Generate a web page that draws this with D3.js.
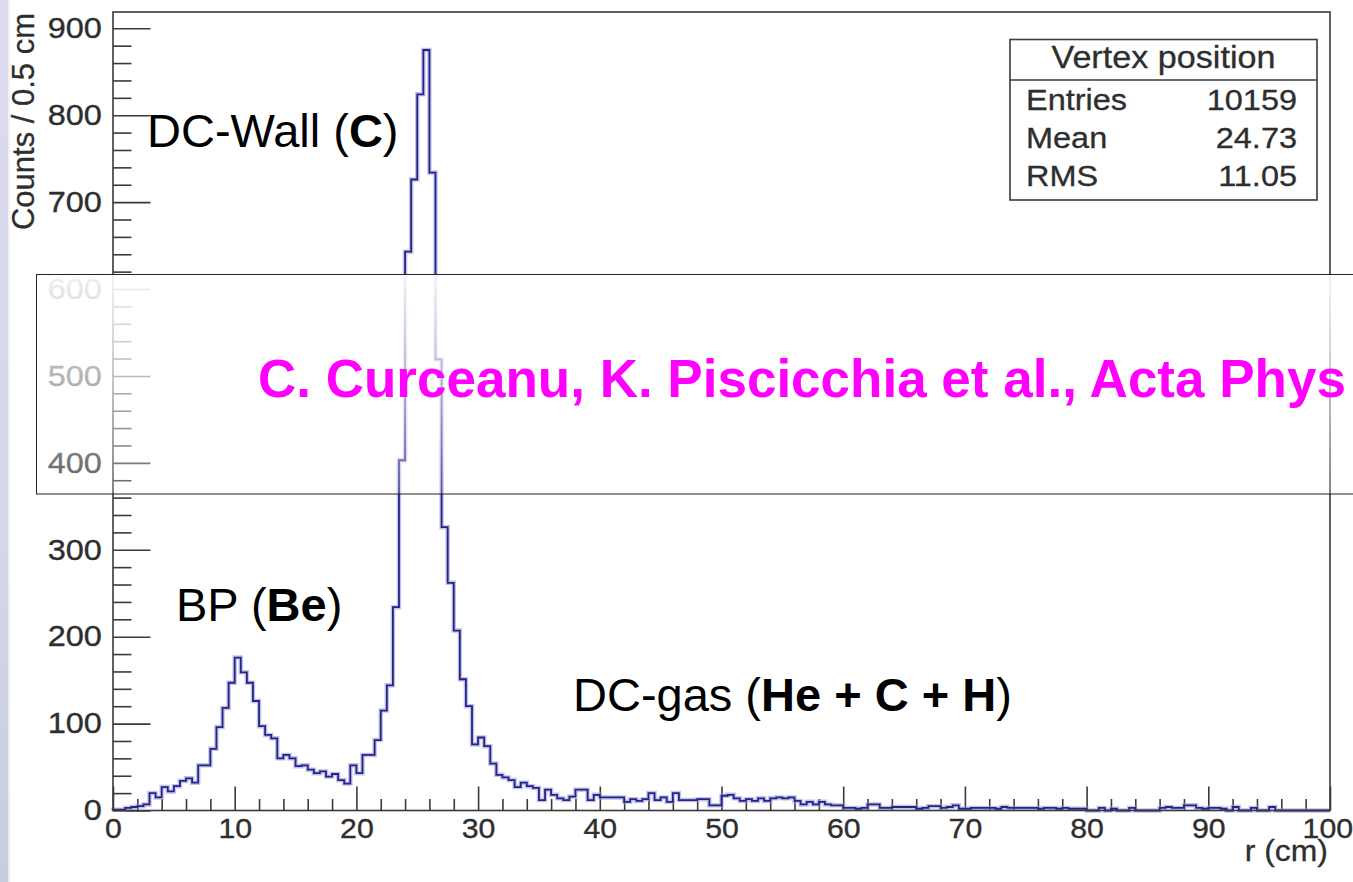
<!DOCTYPE html>
<html>
<head>
<meta charset="utf-8">
<script src="https://cdn.jsdelivr.net/npm/d3@7"></script>
<style>
  html, body { margin: 0; padding: 0; background: #fff; }
  svg { display: block; }
  text { font-family: "Liberation Sans", Arial, Helvetica, sans-serif; }
</style>
</head>
<body>
<svg id="chart" width="1353" height="882"></svg>
<script>
// ---- data: vertex radius histogram, 0.5 cm bins from 0 to 100 cm ----
const binWidth = 0.5;
const xRange = [0, 100];
const counts = [
  // 0 - 9.5 cm
  1, 1, 3, 4, 5, 7, 20, 15, 27, 22, 28, 34, 37, 32, 52, 52, 71, 96, 118, 147,
  // 10 - 19.5 cm
  176, 159, 147, 126, 97, 87, 83, 60, 64, 60, 51, 52, 47, 43, 45, 39, 42, 35, 31, 52,
  // 20 - 29.5 cm
  43, 64, 64, 81, 115, 144, 234, 403, 643, 726, 824, 875, 734, 519, 326, 262, 207, 151, 120, 76,
  // 30 - 39.5 cm
  84, 74, 54, 41, 38, 35, 27, 32, 28, 26, 12, 24, 18, 14, 12, 16, 24, 24, 12, 18,
  // 40 - 49.5 cm
  15, 15, 15, 15, 10, 13, 11, 13, 20, 12, 15, 10, 20, 12, 12, 12, 13, 13, 6, 6,
  // 50 - 59.5 cm
  17, 18, 14, 11, 13, 11, 14, 11, 14, 15, 14, 15, 11, 7, 10, 7, 10, 7, 6, 6,
  // 60 - 69.5 cm
  3, 3, 2, 3, 7, 7, 3, 3, 4, 4, 4, 4, 2, 3, 5, 5, 3, 4, 6, 2,
  // 70 - 79.5 cm
  2, 3, 3, 3, 3, 2, 4, 3, 3, 3, 3, 3, 2, 3, 3, 2, 3, 2, 2, 2,
  // 80 - 89.5 cm
  0, 0, 3, 0, 2, 0, 0, 3, 0, 0, 0, 0, 3, 4, 3, 3, 6, 6, 3, 2,
  // 90 - 99.5 cm
  3, 3, 2, 0, 4, 0, 0, 3, 0, 0, 4, 0, 0, 0, 0, 0, 0, 0, 0, 0
];
const yMax = 918.75;
const yMajorTicks = [0, 100, 200, 300, 400, 500, 600, 700, 800, 900];
const xMajorTicks = [0, 10, 20, 30, 40, 50, 60, 70, 80, 90, 100];
const yTitle = "Counts / 0.5 cm";
const xTitle = "r (cm)";
const statsTitle = "Vertex position";
const statsLabels = ["Entries", "Mean", "RMS"];
const statsValues = ["10159", "24.73", "11.05"];
const banner = "C. Curceanu, K. Piscicchia et al., Acta Phys";

// ---- layout ----
const frame = { left: 113, right: 1330, top: 12, bottom: 810.5 };
const svg = d3.select("#chart");
const defs = svg.append("defs");

const x = d3.scaleLinear().domain(xRange).range([frame.left, frame.right]);
const y = d3.scaleLinear().domain([0, yMax]).range([frame.bottom, frame.top]);

const rootTextColor = "#2e2e2e";
const sx = 1.12; // horizontal stretch of the plot's own lettering

// soft lavender strip at the left page edge
const strip = defs.append("linearGradient").attr("id", "strip")
  .attr("x1", 0).attr("y1", 0).attr("x2", 0).attr("y2", 1);
strip.append("stop").attr("offset", "0%").attr("stop-color", "#dcdbef");
strip.append("stop").attr("offset", "60%").attr("stop-color", "#d6d7ea");
strip.append("stop").attr("offset", "100%").attr("stop-color", "#c8ccdc");
svg.append("rect").attr("x", 0).attr("y", 0).attr("width", 8).attr("height", 882)
  .attr("fill", "url(#strip)");
svg.append("rect").attr("x", 8).attr("y", 0).attr("width", 2).attr("height", 882)
  .attr("fill", "url(#strip)").attr("opacity", 0.4);

// ---- axes ----
const yMinor = d3.range(0, yMax, 20).filter(v => v % 100 !== 0);
const xMinor = d3.range(0, 100, 2).filter(v => v % 10 !== 0);

const gy = svg.append("g").attr("transform", `translate(${frame.left},0)`)
  .call(d3.axisLeft(y).tickValues(yMajorTicks).tickSize(-37.5).tickSizeOuter(0)
    .tickPadding(10).tickFormat(d3.format("d")));
gy.select(".domain").remove();
gy.selectAll(".tick line").attr("stroke", "#3a3a3a").attr("stroke-width", 1.6);
gy.selectAll(".tick text").attr("fill", rootTextColor).attr("font-size", 29)
  .attr("stroke", rootTextColor).attr("stroke-width", 0.35)
  .attr("transform", `scale(${sx},1)`);

const gyMinor = svg.append("g").attr("transform", `translate(${frame.left},0)`)
  .call(d3.axisLeft(y).tickValues(yMinor).tickSize(-18.5).tickSizeOuter(0).tickFormat(""));
gyMinor.select(".domain").remove();
gyMinor.selectAll(".tick line").attr("stroke", "#3a3a3a").attr("stroke-width", 1.6);

const gx = svg.append("g").attr("transform", `translate(0,${frame.bottom})`)
  .call(d3.axisBottom(x).tickValues(xMajorTicks).tickSize(-24).tickSizeOuter(0)
    .tickPadding(8).tickFormat(d3.format("d")));
gx.select(".domain").remove();
gx.selectAll(".tick line").attr("stroke", "#3a3a3a").attr("stroke-width", 1.6);
gx.selectAll(".tick text").attr("fill", rootTextColor).attr("font-size", 28)
  .attr("stroke", rootTextColor).attr("stroke-width", 0.35)
  .attr("dx", d => d === xRange[1] ? -2.5 : 0)
  .attr("transform", `scale(1.08,1)`);

const gxMinor = svg.append("g").attr("transform", `translate(0,${frame.bottom})`)
  .call(d3.axisBottom(x).tickValues(xMinor).tickSize(-11.5).tickSizeOuter(0).tickFormat(""));
gxMinor.select(".domain").remove();
gxMinor.selectAll(".tick line").attr("stroke", "#3a3a3a").attr("stroke-width", 1.6);

// axis titles
svg.append("text")
  .attr("transform", `translate(33.5,${frame.top + 1}) rotate(-90)`)
  .attr("text-anchor", "end").attr("font-size", 31).attr("fill", rootTextColor)
  .attr("stroke", rootTextColor).attr("stroke-width", 0.3)
  .text(yTitle);
svg.append("g").attr("transform", `translate(${frame.right - 2},861)`)
  .append("text").attr("transform", `scale(1.1,1)`)
  .attr("text-anchor", "end").attr("font-size", 29).attr("fill", rootTextColor)
  .attr("stroke", rootTextColor).attr("stroke-width", 0.3)
  .text(xTitle);

// ---- histogram outline ----
const pts = [[xRange[0], 0]];
counts.forEach((c, i) => {
  const lo = xRange[0] + i * binWidth;
  pts.push([lo, c], [lo + binWidth, c]);
});
pts.push([xRange[1], 0]);
const line = d3.line().x(d => x(d[0])).y(d => y(d[1]));

svg.append("path").attr("d", line(pts)).attr("fill", "none")
  .attr("stroke", "#9b9bd8").attr("stroke-width", 4.5).attr("stroke-opacity", 0.6)
  .attr("stroke-linejoin", "miter");
svg.append("path").attr("d", line(pts)).attr("fill", "none")
  .attr("stroke", "#23238a").attr("stroke-width", 1.8);

// frame
svg.append("rect")
  .attr("x", frame.left).attr("y", frame.top)
  .attr("width", frame.right - frame.left).attr("height", frame.bottom - frame.top)
  .attr("fill", "none").attr("stroke", "#3a3a3a").attr("stroke-width", 1.6);

// ---- statistics box ----
const box = { x: 1010, y: 39.5, w: 307, h: 160.5, head: 80 };
const gs = svg.append("g");
gs.append("rect").attr("x", box.x).attr("y", box.y).attr("width", box.w).attr("height", box.h)
  .attr("fill", "#fff").attr("stroke", "#3a3a3a").attr("stroke-width", 1.6);
gs.append("line").attr("x1", box.x).attr("x2", box.x + box.w)
  .attr("y1", box.head).attr("y2", box.head)
  .attr("stroke", "#3a3a3a").attr("stroke-width", 1.6);
gs.append("g").attr("transform", `translate(${box.x + box.w / 2},68)`)
  .append("text").attr("transform", `scale(${sx},1)`)
  .attr("text-anchor", "middle").attr("font-size", 30.5).attr("fill", rootTextColor)
  .attr("stroke", rootTextColor).attr("stroke-width", 0.3)
  .text(statsTitle);
const rowBase = [109.5, 147.5, 186];
statsLabels.forEach((lab, i) => {
  gs.append("g").attr("transform", `translate(${box.x + 16},${rowBase[i]})`)
    .append("text").attr("transform", `scale(${sx},1)`)
    .attr("font-size", 29).attr("fill", rootTextColor)
    .attr("stroke", rootTextColor).attr("stroke-width", 0.3).text(lab);
  gs.append("g").attr("transform", `translate(${box.x + box.w - 20},${rowBase[i]})`)
    .append("text").attr("transform", `scale(${sx},1)`)
    .attr("text-anchor", "end").attr("font-size", 29).attr("fill", rootTextColor)
    .attr("stroke", rootTextColor).attr("stroke-width", 0.3)
    .text(statsValues[i]);
});

// ---- region labels ----
const labels = [
  { x: 147, y: 147, parts: [["DC-Wall (", false], ["C", true], [")", false]] },
  { x: 176, y: 620.5, parts: [["BP (", false], ["Be", true], [")", false]] },
  { x: 573, y: 711, parts: [["DC-gas (", false], ["He + C + H", true], [")", false]] }
];
labels.forEach(l => {
  const t = svg.append("text").attr("x", l.x).attr("y", l.y)
    .attr("font-size", 47).attr("fill", "#000");
  l.parts.forEach(p => t.append("tspan").attr("font-weight", p[1] ? "bold" : "normal").text(p[0]));
});

// ---- translucent citation band ----
const fade = defs.append("linearGradient").attr("id", "fade")
  .attr("x1", 0).attr("y1", 0).attr("x2", 0).attr("y2", 1);
fade.append("stop").attr("offset", "0%").attr("stop-color", "#fff").attr("stop-opacity", 0.93);
fade.append("stop").attr("offset", "50%").attr("stop-color", "#fff").attr("stop-opacity", 0.62);
fade.append("stop").attr("offset", "100%").attr("stop-color", "#fff").attr("stop-opacity", 0.22);
svg.append("rect").attr("x", 36.5).attr("y", 274.5).attr("width", 1330).attr("height", 219.5)
  .attr("fill", "url(#fade)").attr("stroke", "#222").attr("stroke-width", 1);
svg.append("text").attr("x", 258).attr("y", 396.5)
  .attr("font-size", 53).attr("font-weight", "bold").attr("fill", "#ff00ff")
  .text(banner);
</script>
</body>
</html>
